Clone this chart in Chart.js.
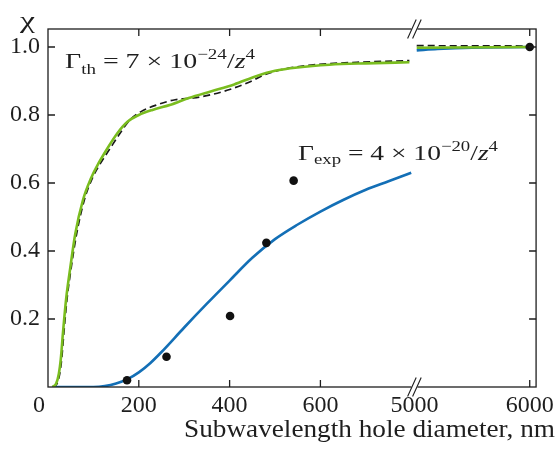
<!DOCTYPE html>
<html>
<head>
<meta charset="utf-8">
<script src="https://cdn.jsdelivr.net/npm/chart.js@4.4.1/dist/chart.umd.min.js"></script>
<style>
  html, body { margin: 0; padding: 0; background: #fff; }
  #wrap { width: 558px; height: 451px; }
</style>
</head>
<body>
<div id="wrap"><canvas id="c"></canvas></div>
<script>
// x = hole diameter (nm), y = chi
const thGreenLeft = [[10,0],[18,0.01],[24,0.04],[28,0.08],[33,0.16],[40,0.26],[49,0.35],[60,0.45],[77,0.55],[95,0.615],[108,0.65],[130,0.7],[152,0.745],[175,0.78],[200,0.8],[230,0.815],[270,0.83],[310,0.85],[360,0.87],[410,0.89],[460,0.915],[500,0.93],[550,0.94],[620,0.948],[700,0.952],[796,0.955]];
const thGreenRight = [[5020,0.998],[6000,1.0]];
const thDashLeft = [[10,0],[20,0.01],[26,0.04],[30,0.08],[35,0.16],[42,0.26],[51,0.35],[63,0.45],[80,0.55],[98,0.615],[112,0.65],[136,0.7],[158,0.745],[180,0.785],[205,0.81],[240,0.83],[280,0.845],[320,0.85],[360,0.86],[400,0.875],[440,0.895],[480,0.92],[520,0.935],[580,0.947],[680,0.955],[796,0.96]];
const thDashRight = [[5020,1.004],[6000,1.003]];
const expBlueLeft = [[10,0],[100,0],[125,0.0025],[150,0.01],[175,0.023],[200,0.043],[225,0.07],[250,0.103],[300,0.175],[350,0.245],[400,0.313],[450,0.38],[500,0.435],[550,0.478],[600,0.516],[650,0.55],[700,0.58],[750,0.605],[800,0.63]];
const expBlueRight = [[5020,0.99],[5200,0.994],[5500,0.998],[6000,1.0]];
const expDots = [[174,0.02],[261,0.089],[401,0.209],[481,0.424],[541,0.607],[6000,1.0]];

const xTickValues = [0, 200, 400, 600, 5000, 6000];
const xTickLabels = ['0', '200', '400', '600', '5000', '6000'];
const yTickValues = [0.2, 0.4, 0.6, 0.8, 1.0];

// broken axis: 0..807 nm shown as is, then 5000..6000 squeezed
const BREAK_U = 807;
const RIGHT_SCALE = 0.254;
const toU = (nm) => nm < 1000 ? nm : BREAK_U + (nm - 5000) * RIGHT_SCALE;

const SERIF = '"Liberation Serif", "Times New Roman", serif';
const INK = '#1e1e1e';

const pts = (arr) => arr.map(d => ({ x: toU(d[0]), y: d[1] }));
const joined = (l, r) => [...pts(l), { x: BREAK_U + 2, y: null }, ...pts(r)];

function drawRuns(ctx, x0, base, width, runs) {
  let w = 0;
  runs.forEach(r => { ctx.font = r.font; w += ctx.measureText(r.t).width; });
  const s = width / w;
  ctx.save();
  ctx.translate(x0, base);
  ctx.scale(s, 1);
  let cx = 0;
  runs.forEach(r => {
    ctx.font = r.font;
    ctx.fillText(r.t, cx, r.dy || 0);
    cx += ctx.measureText(r.t).width;
  });
  ctx.restore();
}

const frame = {
  id: 'frame',
  afterDraw(chart) {
    const { ctx, chartArea: a, scales: { x, y } } = chart;
    ctx.save();
    ctx.strokeStyle = INK;
    ctx.lineWidth = 1.3;
    ctx.strokeRect(a.left, a.top, a.right - a.left, a.bottom - a.top);

    // inward ticks
    ctx.beginPath();
    xTickValues.forEach(v => {
      if (v === 0 || v === 5000) return;
      const px = x.getPixelForValue(toU(v));
      ctx.moveTo(px, a.bottom); ctx.lineTo(px, a.bottom - 7);
      ctx.moveTo(px, a.top); ctx.lineTo(px, a.top + 7);
    });
    yTickValues.forEach(v => {
      const py = y.getPixelForValue(v);
      ctx.moveTo(a.left, py); ctx.lineTo(a.left + 7, py);
      ctx.moveTo(a.right, py); ctx.lineTo(a.right - 7, py);
    });
    ctx.stroke();

    // axis break marks
    const xb = x.getPixelForValue(BREAK_U);
    [a.top, a.bottom].forEach(yy => {
      ctx.fillStyle = '#fff';
      ctx.fillRect(xb - 3, yy - 2, 6, 4);
      ctx.beginPath();
      [-2.5, 2.5].forEach(o => {
        ctx.moveTo(xb + o - 4.3, yy + 9.5);
        ctx.lineTo(xb + o + 4.3, yy - 9.5);
      });
      ctx.lineWidth = 1.1;
      ctx.stroke();
    });

    // texts
    ctx.fillStyle = INK;
    ctx.textBaseline = 'alphabetic';
    drawRuns(ctx, 20, 28, 15, [{ t: 'χ', font: `23px ${SERIF}` }]);
    drawRuns(ctx, 184, 437, 371, [{ t: 'Subwavelength hole diameter, nm', font: `26px ${SERIF}` }]);
    drawRuns(ctx, 65, 68, 190, [
      { t: 'Γ', font: `22px ${SERIF}` },
      { t: 'th', font: `15px ${SERIF}`, dy: 6 },
      { t: ' = 7 × 10', font: `22px ${SERIF}` },
      { t: '−24', font: `15px ${SERIF}`, dy: -9 },
      { t: '/', font: `22px ${SERIF}` },
      { t: 'z', font: `italic 22px ${SERIF}` },
      { t: '4', font: `15px ${SERIF}`, dy: -9 }
    ]);
    drawRuns(ctx, 298, 160, 200, [
      { t: 'Γ', font: `22px ${SERIF}` },
      { t: 'exp', font: `15px ${SERIF}`, dy: 4 },
      { t: ' = 4 × 10', font: `22px ${SERIF}` },
      { t: '−20', font: `15px ${SERIF}`, dy: -9 },
      { t: '/', font: `22px ${SERIF}` },
      { t: 'z', font: `italic 22px ${SERIF}` },
      { t: '4', font: `15px ${SERIF}`, dy: -9 }
    ]);
    ctx.restore();
  }
};

new Chart(document.getElementById('c'), {
  type: 'line',
  data: {
    datasets: [
      {
        type: 'scatter',
        data: pts(expDots),
        pointRadius: 4.3,
        pointBackgroundColor: '#111',
        pointBorderWidth: 0
      },
      {
        data: joined(thGreenLeft, thGreenRight),
        borderColor: '#7abd1f',
        borderWidth: 2.6,
        pointRadius: 0,
        cubicInterpolationMode: 'monotone'
      },
      {
        data: joined(expBlueLeft, expBlueRight),
        borderColor: '#136fb6',
        borderWidth: 2.6,
        pointRadius: 0,
        cubicInterpolationMode: 'monotone'
      },
      {
        data: joined(thDashLeft, thDashRight),
        borderColor: '#1a1a1a',
        borderWidth: 1.7,
        borderDash: [7, 4],
        pointRadius: 0,
        cubicInterpolationMode: 'monotone'
      }
    ]
  },
  options: {
    responsive: true,
    maintainAspectRatio: false,
    animation: false,
    devicePixelRatio: 1,
    spanGaps: false,
    layout: { padding: { left: 0, right: 21, top: 29, bottom: 0 } },
    plugins: { legend: { display: false }, tooltip: { enabled: false } },
    scales: {
      x: {
        type: 'linear',
        min: 0,
        max: 1075,
        afterBuildTicks: (s) => { s.ticks = xTickValues.map(v => ({ value: toU(v) })); },
        afterFit: (s) => { s.height = 64; },
        grid: { display: false, drawTicks: false },
        border: { display: false },
        ticks: {
          autoSkip: false,
          maxRotation: 0,
          padding: 4,
          color: INK,
          font: { family: SERIF, size: 24 },
          // the "0" sits a little left of the corner in the original
          callback: (v, i) => i === 0 ? xTickLabels[i] + '   ' : xTickLabels[i]
        }
      },
      y: {
        min: 0,
        max: 1.053,
        afterBuildTicks: (s) => { s.ticks = yTickValues.map(v => ({ value: v })); },
        afterFit: (s) => { s.width = 48; },
        grid: { display: false, drawTicks: false },
        border: { display: false },
        ticks: {
          padding: 8,
          color: INK,
          font: { family: SERIF, size: 24 },
          callback: (v) => v.toFixed(1)
        }
      }
    }
  },
  plugins: [frame]
});
</script>
</body>
</html>
